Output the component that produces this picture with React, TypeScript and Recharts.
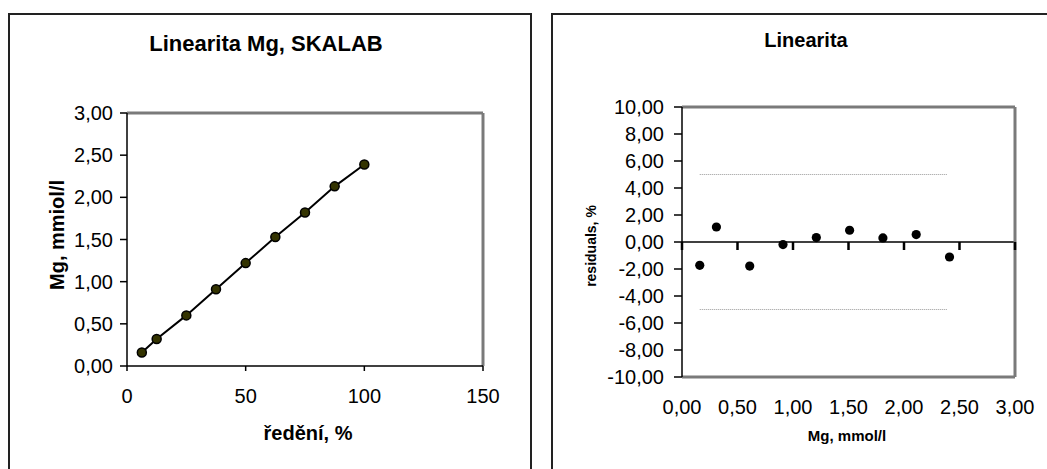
import { ScatterChart, Scatter, XAxis, YAxis, ReferenceLine } from "recharts"

// dilution (%) vs measured Mg (mmol/l)
const dilution = [6.25, 12.5, 25, 37.5, 50, 62.5, 75, 87.5, 100]
const measuredMg = [0.16, 0.32, 0.6, 0.91, 1.22, 1.53, 1.82, 2.13, 2.39]

// residuals plot
const expectedMg = [0.16, 0.31, 0.61, 0.91, 1.21, 1.51, 1.81, 2.11, 2.41]
const residuals = [-1.73, 1.11, -1.78, -0.19, 0.33, 0.87, 0.3, 0.55, -1.11]
const limitX = [0.16, 2.39]
const upperLimit = [5, 5]
const lowerLimit = [-5, -5]

const dilutionTicks = [0, 50, 100, 150]
const mgTicks = [0, 0.5, 1, 1.5, 2, 2.5, 3]
const residualTicks = [-10, -8, -6, -4, -2, 0, 2, 4, 6, 8, 10]

const FONT = "'Liberation Sans', Arial, sans-serif"
const GRAY = "#7a7a7a"

const linData = dilution.map((x, i) => ({ x, y: measuredMg[i] }))
const resData = expectedMg.map((x, i) => ({ x, y: residuals[i] }))
const upperData = limitX.map((x, i) => ({ x, y: upperLimit[i] }))
const lowerData = limitX.map((x, i) => ({ x, y: lowerLimit[i] }))
const zeroTickData = mgTicks.map((x) => ({ x, y: 0 }))

const fmt = (v: number) => v.toFixed(2).replace(".", ",")

const OliveDot = (p: any) => (
  <circle cx={p.cx} cy={p.cy} r={4.5} fill="#333300" stroke="#000" strokeWidth={1.5} />
)
const BlackDot = (p: any) => <circle cx={p.cx} cy={p.cy} r={4.6} fill="#000" />
const NoDot = () => <g />
// short tick hanging under the zero line
const TickMark = (p: any) => <path d={`M${p.cx},${p.cy}v8`} stroke="#000" strokeWidth={2.5} />

export default function App() {
  return (
    <div
      style={{
        position: "absolute",
        left: 0,
        top: 0,
        width: 1047,
        height: 469,
        overflow: "hidden",
        background: "#fff",
        fontFamily: FONT,
      }}
    >
      {/* panel frames */}
      <div style={{ position: "absolute", left: 8, top: 13, width: 520, height: 480, border: "2px solid #222" }} />
      <div style={{ position: "absolute", left: 551, top: 13, width: 520, height: 480, border: "2px solid #222" }} />

      <div style={{ position: "absolute", left: 0, top: 0 }}>
        <ScatterChart width={531} height={469} margin={{ top: 112, right: 47, bottom: 73, left: 67 }}>
          <XAxis
            xAxisId="top"
            orientation="top"
            type="number"
            domain={[0, 150]}
            height={1}
            tick={false}
            tickLine={false}
            stroke={GRAY}
            strokeWidth={3}
          />
          <YAxis
            yAxisId="right"
            orientation="right"
            type="number"
            domain={[0, 3]}
            width={1}
            tick={false}
            tickLine={false}
            stroke={GRAY}
            strokeWidth={3}
          />
          <XAxis
            type="number"
            dataKey="x"
            domain={[0, 150]}
            ticks={dilutionTicks}
            interval={0}
            stroke="#000"
            strokeWidth={1.5}
            tickSize={5}
            tickMargin={18}
            height={30}
            tick={{ fontSize: 20, fill: "#000", fontFamily: FONT }}
          />
          <YAxis
            type="number"
            dataKey="y"
            domain={[0, 3]}
            ticks={mgTicks}
            interval={0}
            tickFormatter={fmt}
            stroke="#000"
            strokeWidth={1.5}
            tickSize={7}
            tickMargin={7}
            width={60}
            tick={{ fontSize: 20, fill: "#000", fontFamily: FONT }}
          />
          <Scatter
            data={linData}
            line={{ stroke: "#000", strokeWidth: 2 }}
            shape={OliveDot}
            isAnimationActive={false}
          />
        </ScatterChart>
      </div>

      <div style={{ position: "absolute", left: 540, top: 0 }}>
        <ScatterChart width={507} height={469} margin={{ top: 106, right: 31, bottom: 62, left: 72 }}>
          <XAxis
            xAxisId="top"
            orientation="top"
            type="number"
            domain={[0, 3]}
            height={1}
            tick={false}
            tickLine={false}
            stroke={GRAY}
            strokeWidth={3}
          />
          <YAxis
            yAxisId="right"
            orientation="right"
            type="number"
            domain={[-10, 10]}
            width={1}
            tick={false}
            tickLine={false}
            stroke={GRAY}
            strokeWidth={3}
          />
          <XAxis
            type="number"
            dataKey="x"
            domain={[0, 3]}
            ticks={mgTicks}
            interval={0}
            tickFormatter={fmt}
            stroke={GRAY}
            strokeWidth={3}
            tickLine={false}
            tickSize={0}
            tickMargin={23}
            height={30}
            tick={{ fontSize: 20, fill: "#000", fontFamily: FONT }}
          />
          <YAxis
            type="number"
            dataKey="y"
            domain={[-10, 10]}
            ticks={residualTicks}
            interval={0}
            tickFormatter={fmt}
            stroke="#000"
            strokeWidth={1.5}
            tickSize={8}
            tickMargin={10}
            width={70}
            tick={{ fontSize: 20, fill: "#000", fontFamily: FONT }}
          />
          <ReferenceLine y={0} stroke="#000" strokeWidth={1.5} />
          <Scatter
            data={upperData}
            line={{ stroke: "#999", strokeWidth: 1, strokeDasharray: "1 1" }}
            shape={NoDot}
            isAnimationActive={false}
          />
          <Scatter
            data={lowerData}
            line={{ stroke: "#999", strokeWidth: 1, strokeDasharray: "1 1" }}
            shape={NoDot}
            isAnimationActive={false}
          />
          <Scatter data={zeroTickData} shape={TickMark} isAnimationActive={false} />
          <Scatter data={resData} shape={BlackDot} isAnimationActive={false} />
        </ScatterChart>
      </div>

      {/* titles and axis names */}
      <svg
        width={1047}
        height={469}
        style={{ position: "absolute", left: 0, top: 0, pointerEvents: "none" }}
        fontFamily={FONT}
        fontWeight="bold"
      >
        <text x={266} y={51} fontSize={22} textAnchor="middle">
          Linearita Mg, SKALAB
        </text>
        <text x={64} y={235} fontSize={20} textAnchor="middle" transform="rotate(-90 64 235)">
          Mg, mmiol/l
        </text>
        <text x={308} y={440} fontSize={20} textAnchor="middle">
          ředění, %
        </text>
        <text x={806} y={47} fontSize={20} textAnchor="middle">
          Linearita
        </text>
        <text x={596} y={246} fontSize={14} textAnchor="middle" transform="rotate(-90 596 246)">
          residuals, %
        </text>
        <text x={847} y={441} fontSize={15} textAnchor="middle">
          Mg, mmol/l
        </text>
      </svg>
    </div>
  )
}
